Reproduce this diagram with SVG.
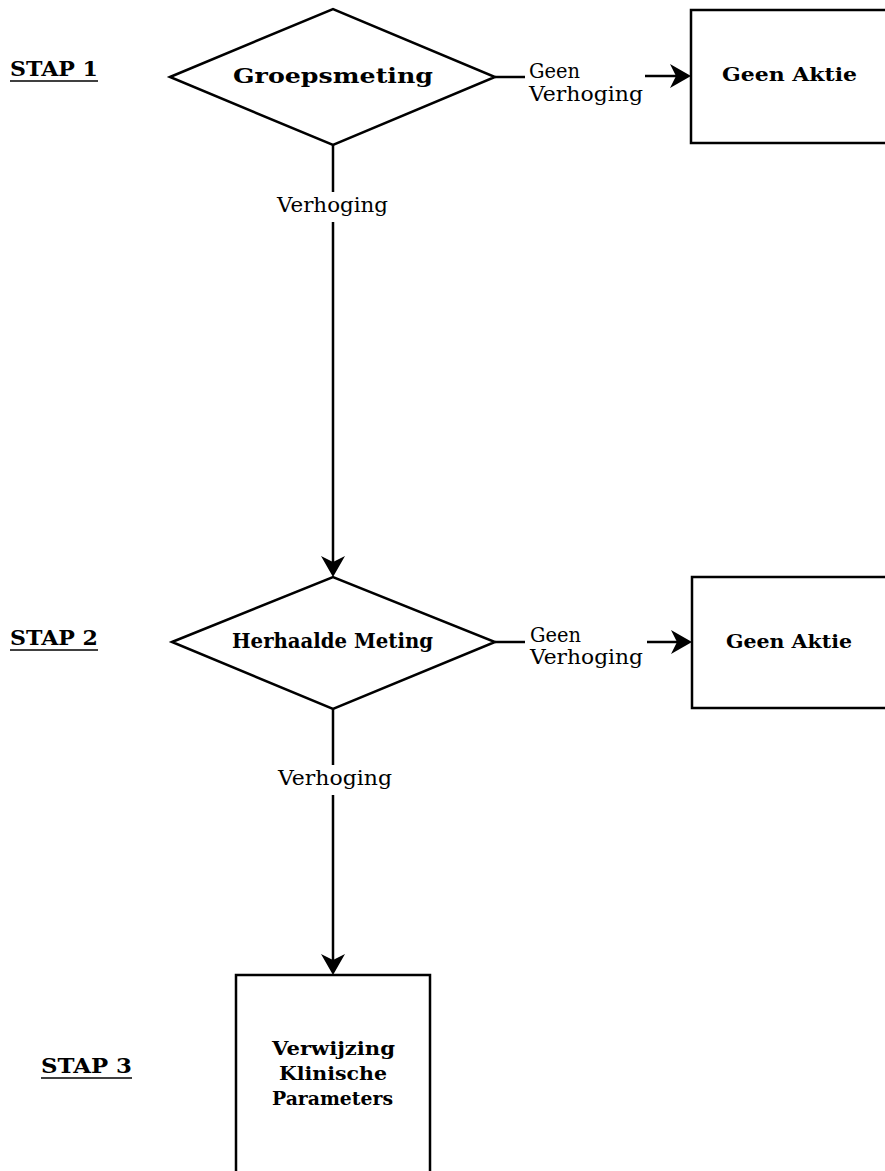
<svg xmlns="http://www.w3.org/2000/svg" width="885" height="1171" viewBox="0 0 885 1171">
<style>
.shape{fill:none;stroke:#000;stroke-width:2.5}
.conn{fill:none;stroke:#000;stroke-width:2.5}
.b{font-family:"DejaVu Serif","Liberation Serif",serif;font-weight:bold;font-size:21px;fill:#000}
.bs{font-family:"DejaVu Serif","Liberation Serif",serif;font-weight:bold;font-size:19px;fill:#000}
.r{font-family:"DejaVu Serif","Liberation Serif",serif;font-size:20px;fill:#000}
.stap{font-family:"DejaVu Serif","Liberation Serif",serif;font-weight:bold;font-size:21px;fill:#000}
.ul{stroke:#000;stroke-width:1.5}
</style>
<defs>
<marker id="arr" viewBox="-23 -13 24 26" refX="-5" refY="0" markerWidth="24" markerHeight="26" markerUnits="userSpaceOnUse" orient="auto">
<path d="M0,0 L-21,-12 L-15,0 L-21,12 Z" fill="#000"/>
</marker>
</defs>
<rect width="885" height="1171" fill="#fff"/>

<g id="labels">
<text class="stap" x="10" y="76" textLength="88" lengthAdjust="spacingAndGlyphs">STAP 1</text>
<line class="ul" x1="10" y1="81" x2="98" y2="81"/>
<text class="stap" x="10" y="645" textLength="88" lengthAdjust="spacingAndGlyphs">STAP 2</text>
<line class="ul" x1="10" y1="650" x2="98" y2="650"/>
<text class="stap" x="41" y="1073" textLength="91" lengthAdjust="spacingAndGlyphs">STAP 3</text>
<line class="ul" x1="41" y1="1078" x2="132" y2="1078"/>
</g>

<g id="groepsmeting">
<polygon class="shape" points="170,77 333,9 495,77 333,145"/>
<text class="b" x="233" y="83" textLength="200" lengthAdjust="spacingAndGlyphs">Groepsmeting</text>
</g>

<g id="geen-aktie-1">
<rect class="shape" x="691" y="10" width="210" height="133"/>
<text class="bs" x="722" y="81" textLength="135" lengthAdjust="spacingAndGlyphs">Geen Aktie</text>
</g>

<g id="herhaalde-meting">
<polygon class="shape" points="172,642 333,577 495,642 333,709"/>
<text class="b" x="232" y="648" textLength="201" lengthAdjust="spacingAndGlyphs">Herhaalde Meting</text>
</g>

<g id="geen-aktie-2">
<rect class="shape" x="692" y="577" width="210" height="131"/>
<text class="bs" x="726" y="648" textLength="126" lengthAdjust="spacingAndGlyphs">Geen Aktie</text>
</g>

<g id="verwijzing">
<rect class="shape" x="236" y="975" width="194" height="210"/>
<text class="bs" x="272" y="1055" textLength="123" lengthAdjust="spacingAndGlyphs">Verwijzing</text>
<text class="bs" x="279" y="1080" textLength="108" lengthAdjust="spacingAndGlyphs">Klinische</text>
<text class="bs" x="272" y="1105" textLength="121" lengthAdjust="spacingAndGlyphs">Parameters</text>
</g>

<g id="connectors">
<line class="conn" x1="495" y1="77" x2="525" y2="77"/>
<text class="r" x="529" y="78" textLength="51" lengthAdjust="spacingAndGlyphs">Geen</text>
<text class="r" x="529" y="101" textLength="114" lengthAdjust="spacingAndGlyphs">Verhoging</text>
<line class="conn" x1="645" y1="76" x2="686" y2="76" marker-end="url(#arr)"/>

<line class="conn" x1="333" y1="145" x2="333" y2="192"/>
<text class="r" x="277" y="212" textLength="111" lengthAdjust="spacingAndGlyphs">Verhoging</text>
<line class="conn" x1="333" y1="222" x2="333" y2="572" marker-end="url(#arr)"/>

<line class="conn" x1="495" y1="642" x2="525" y2="642"/>
<text class="r" x="530" y="642" textLength="51" lengthAdjust="spacingAndGlyphs">Geen</text>
<text class="r" x="530" y="664" textLength="113" lengthAdjust="spacingAndGlyphs">Verhoging</text>
<line class="conn" x1="647" y1="642" x2="687" y2="642" marker-end="url(#arr)"/>

<line class="conn" x1="333" y1="709" x2="333" y2="765"/>
<text class="r" x="278" y="785" textLength="114" lengthAdjust="spacingAndGlyphs">Verhoging</text>
<line class="conn" x1="333" y1="795" x2="333" y2="970" marker-end="url(#arr)"/>
</g>
</svg>
